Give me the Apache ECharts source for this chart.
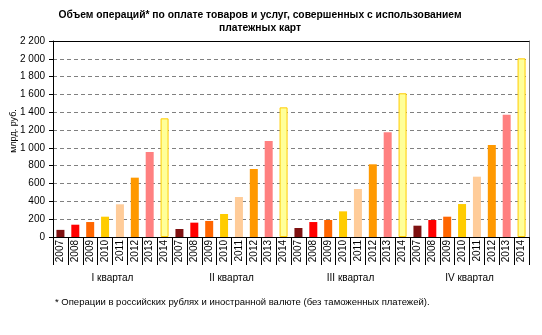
<!DOCTYPE html>
<html><head><meta charset="utf-8">
<script src="https://cdn.jsdelivr.net/npm/echarts@6/dist/echarts.min.js"></script>
<style>html,body{margin:0;padding:0;background:#fff}#c{width:542px;height:335px}</style>
</head><body><div id="c"></div>
<script>
const quarters = ['I квартал', 'II квартал', 'III квартал', 'IV квартал'];
const years = ['2007', '2008', '2009', '2010', '2011', '2012', '2013', '2014'];
const q1 = [80, 138, 168, 228, 367, 666, 954, 1332];
const q2 = [90, 161, 180, 258, 449, 763, 1077, 1455];
const q3 = [101, 168, 191, 288, 539, 816, 1175, 1613];
const q4 = [127, 191, 228, 370, 677, 1033, 1373, 2005];
const yTicks = [0, 200, 400, 600, 800, 1000, 1200, 1400, 1600, 1800, 2000, 2200];
const yearColors = ['#7f1212', '#ff0000', '#ff6600', '#ffcc00', '#ffcc99', '#ff9900', '#ff8080', '#ffff99'];

const quarterData = [q1, q2, q3, q4];
const cats = [];
const data = [];
quarters.forEach((q, qi) => {
  years.forEach((y, yi) => {
    cats.push(q + '|' + y);
    const isLast = yi === years.length - 1;
    data.push({
      value: quarterData[qi][yi],
      itemStyle: { color: yearColors[yi], borderColor: isLast ? '#ffcc00' : yearColors[yi], borderWidth: isLast ? 1 : 0 }
    });
  });
});
const fmtY = v => v >= 1000 ? Math.floor(v / 1000) + ' ' + String(v % 1000).padStart(3, '0') : String(v);
const font = 'Liberation Sans, Arial, sans-serif';

const chart = echarts.init(document.getElementById('c'), null, { renderer: 'canvas' });
chart.setOption({
  animation: false,
  textStyle: { fontFamily: font },
  title: [{
    text: 'Объем операций* по оплате товаров и услуг, совершенных с использованием\nплатежных карт',
    left: 255, top: 4, padding: 5, textAlign: 'center',
    textStyle: { fontSize: 10.3, fontWeight: 'bold', color: '#000', lineHeight: 13, fontFamily: font }
  }, {
    text: '* Операции в российских рублях и иностранной валюте (без таможенных платежей).',
    left: 50, top: 292,
    textStyle: { fontSize: 9.5, fontWeight: 'normal', color: '#000', fontFamily: font }
  }],
  grid: { left: 53, right: 13, top: 41, bottom: 98, containLabel: false },
  xAxis: [{
    type: 'category', data: cats, position: 'bottom',
    axisLine: { show: true, lineStyle: { color: '#000', width: 1 } },
    axisTick: { show: true, interval: 0, length: 28, lineStyle: { color: '#000' } },
    axisLabel: { interval: 0, rotate: 90, margin: 3, fontSize: 10, color: '#000', formatter: v => v.split('|')[1] },
    splitLine: { show: false }
  }, {
    type: 'category', data: quarters, position: 'bottom', offset: 28,
    axisLine: { show: false },
    axisTick: { show: true, interval: 0, length: 20, lineStyle: { color: '#000' } },
    axisLabel: { interval: 0, margin: 8, fontSize: 10, color: '#000' }
  }, {
    type: 'category', data: quarters, position: 'top',
    axisLine: { show: true, lineStyle: { color: '#000' } },
    axisTick: { show: false }, axisLabel: { show: false }
  }],
  yAxis: [{
    type: 'value', min: 0, max: 2200, interval: 200,
    name: 'млрд. руб.', nameLocation: 'middle', nameGap: 35, nameRotate: 90, nameMoveOverlap: false,
    nameTextStyle: { fontSize: 9, color: '#000', padding: [0, 0, 0, 16] },
    axisLine: { show: true, lineStyle: { color: '#000' } },
    axisTick: { show: true, length: 4, lineStyle: { color: '#000' } },
    axisLabel: { fontSize: 10, color: '#000', margin: 8, formatter: fmtY },
    splitLine: { show: true, lineStyle: { color: '#808080', type: [4, 3], width: 1 } }
  }, {
    type: 'value', min: 0, max: 2200, position: 'right',
    axisLine: { show: true, lineStyle: { color: '#808080' } },
    axisTick: { show: false }, axisLabel: { show: false }, splitLine: { show: false }
  }],
  series: [{
    type: 'bar', xAxisIndex: 0, yAxisIndex: 0, barWidth: 8, data: data
  }]
});
</script></body></html>
